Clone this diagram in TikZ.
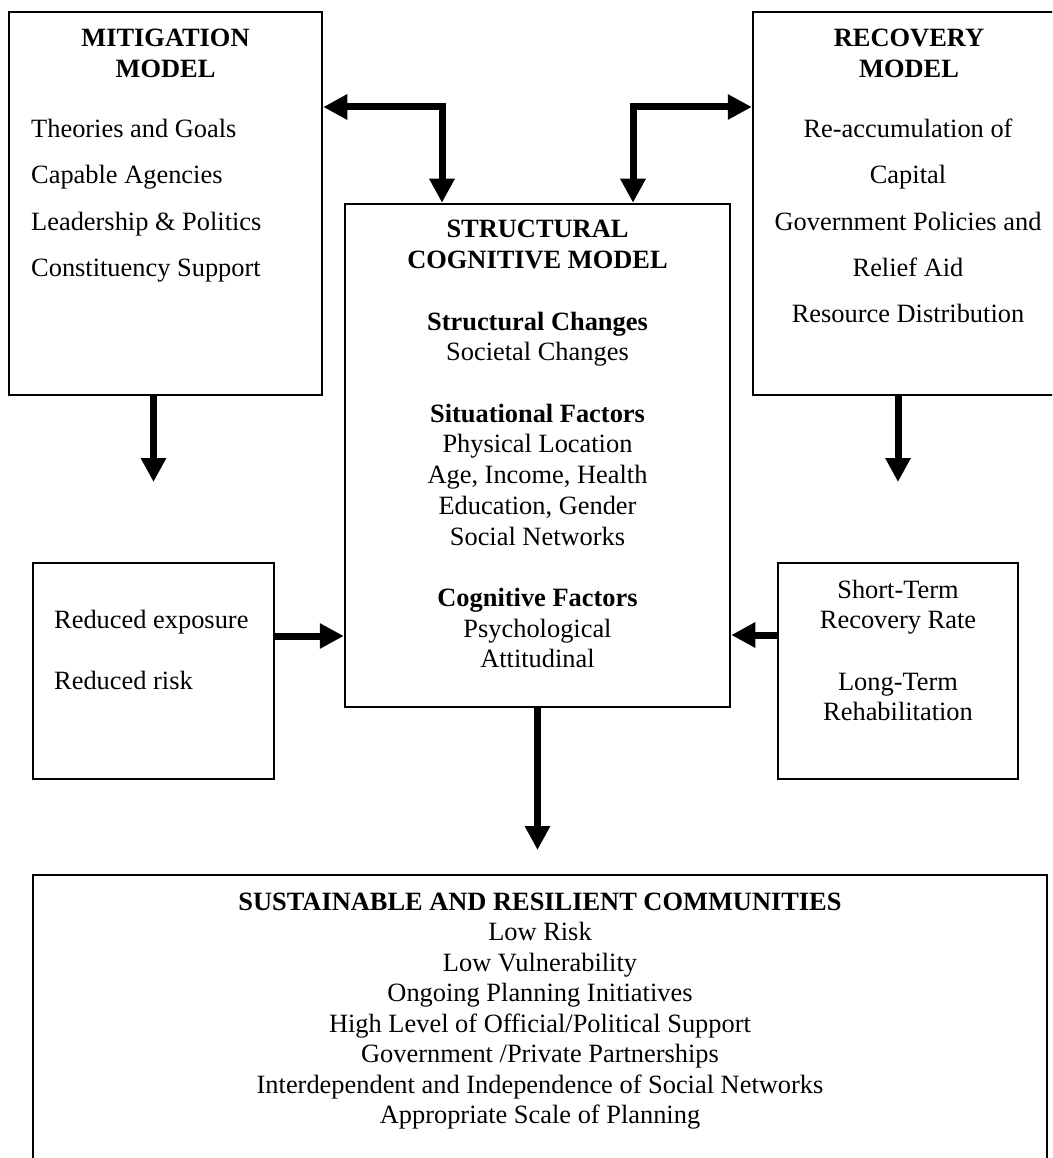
\documentclass[tikz,border=0pt]{standalone}
\usepackage{fontspec}
\setmainfont{Liberation Serif}
\usetikzlibrary{arrows.meta}
\begin{document}
\begin{tikzpicture}[x=1pt,y=-1pt,
  box/.style={draw, line width=2.5pt, rectangle, inner sep=0pt},
  txt/.style={font=\fontsize{26.4}{30.7}\selectfont, inner sep=0pt, anchor=base},
  lefttxt/.style={txt, anchor=base west},
  bold/.style={font=\fontsize{26.4}{30.7}\selectfont\bfseries},
  fat/.style={line width=7pt, line join=miter},
  >={Triangle[width=24pt,length=24pt]}]
\useasboundingbox (0,0) rectangle (1052,1158);
\clip (0,0) rectangle (1052,1158);

% boxes
\node[box, minimum width=313pt, minimum height=383pt] (mit) at (165.5,203.5) {};
\node[box, minimum width=312pt, minimum height=383pt] (rec) at (909,203.5) {};
\node[box, minimum width=385pt, minimum height=503pt] (cen) at (537.5,455.5) {};
\node[box, minimum width=241pt, minimum height=216pt] (red) at (153.5,671) {};
\node[box, minimum width=240pt, minimum height=216pt] (rate) at (898,671) {};
\node[box, minimum width=1014pt, minimum height=305pt] (sus) at (540,1027.5) {};

% mitigation model
\node[txt, bold] (mitA) at (165.5,47) {MITIGATION};
\node[txt, bold] (mitB) at (165.5,78) {MODEL};
\foreach \t [count=\i from 0] in {Theories and Goals, Capable Agencies, Leadership \& Politics, Constituency Support}
  \node[lefttxt, name=mitl\i] at (31,{138+46*\i}) {\t};

% recovery model
\node[txt, bold] (recA) at (909,47) {RECOVERY};
\node[txt, bold] (recB) at (909,78) {MODEL};
\foreach \t [count=\i from 0] in {Re-accumulation of, Capital, Government Policies and, Relief Aid, Resource Distribution}
  \node[txt, name=recl\i] at (908,{138+46*\i}) {\t};

% structural cognitive model
\foreach \t/\n/\s in {STRUCTURAL/0/bold, COGNITIVE MODEL/1/bold, Structural Changes/3/bold, Societal Changes/4/txt,
  Situational Factors/6/bold, Physical Location/7/txt, {Age, Income, Health}/8/txt, {Education, Gender}/9/txt,
  Social Networks/10/txt, Cognitive Factors/12/bold, Psychological/13/txt, Attitudinal/14/txt}
  \node[txt, \s, name=cenl\n] at (537.5,{238+30.7*\n}) {\t};

% outcome boxes
\node[lefttxt, name=redl0] at (54,628) {Reduced exposure};
\node[lefttxt, name=redl1] at (54,689.4) {Reduced risk};
\foreach \t/\n in {Short-Term/0, Recovery Rate/1, Long-Term/3, Rehabilitation/4}
  \node[txt, name=ratel\n] at (898,{598+30.7*\n}) {\t};

% sustainable and resilient communities
\node[txt, bold] (susT) at (540,910) {SUSTAINABLE AND RESILIENT COMMUNITIES};
\foreach \t [count=\i from 1] in {Low Risk, Low Vulnerability, Ongoing Planning Initiatives,
  High Level of Official/Political Support, Government /Private Partnerships,
  Interdependent and Independence of Social Networks, Appropriate Scale of Planning}
  \node[txt, name=susl\i] at (540,{910+30.5*\i}) {\t};

% connectors
\coordinate (ml) at (442,107);
\coordinate (mr) at (633,107);
\coordinate (ma) at (153.5,482);
\coordinate (ra) at (898,482);
\coordinate (ca) at (537.5,850);
\draw[fat, <->] (ml -| mit.east) -- (ml) -- (ml |- cen.north);
\draw[fat, <->] (mr -| rec.west) -- (mr) -- (mr |- cen.north);
\draw[fat, ->] (ma |- mit.south) -- (ma);
\draw[fat, ->] (ra |- rec.south) -- (ra);
\draw[fat, ->] (red.east |- 0,636) -- (cen.west |- 0,636);
\draw[fat, ->] (rate.west |- 0,635) -- (cen.east |- 0,635);
\draw[fat, ->] (cen.south) -- (ca);
\end{tikzpicture}
\end{document}
